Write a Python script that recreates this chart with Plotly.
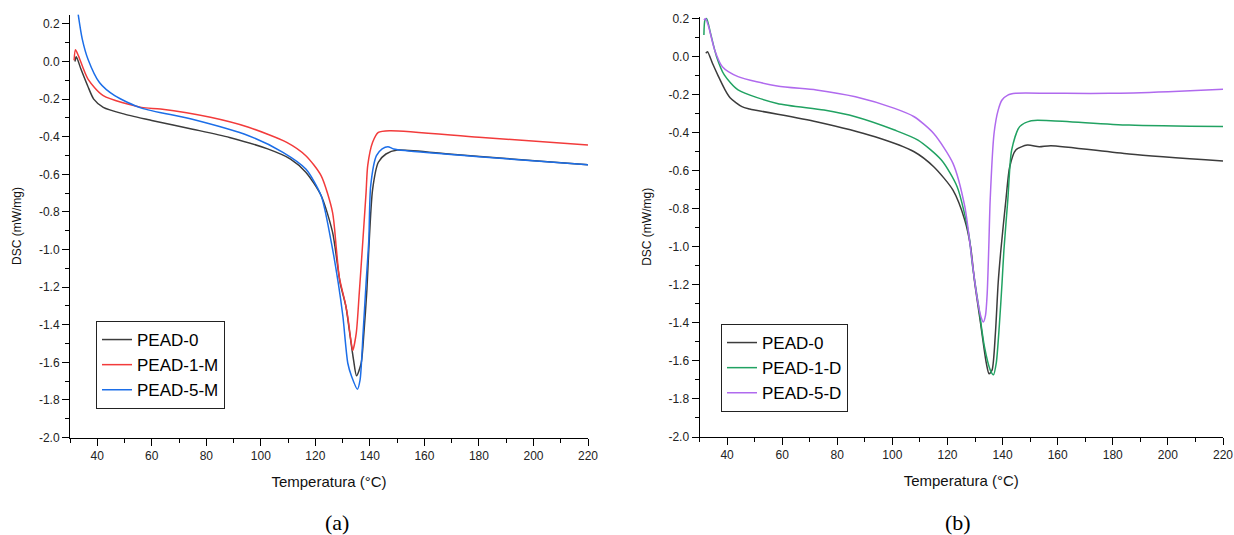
import plotly.graph_objects as go

# (a) curves: temperature (°C) and DSC (mW/mg)
temp_0_a = [31.8, 32.3, 34.0, 36.5, 38.7, 42.2, 50.0, 60.4, 75.0, 88.5, 102.5, 110.9, 116.5,
            122.1, 126.3, 129.1, 131.2, 132.6, 134.0, 135.1, 136.8, 137.8, 138.9, 139.6,
            141.0, 143.1, 145.9, 150.1, 170.0, 190.0, 220.0]
dsc_0_a = [0.0, 0.025, -0.04, -0.13, -0.2, -0.244, -0.28, -0.315, -0.36, -0.404, -0.465, -0.519,
           -0.589, -0.713, -0.908, -1.179, -1.303, -1.445, -1.587, -1.672, -1.605, -1.445,
           -1.214, -1.0, -0.68, -0.536, -0.492, -0.471, -0.494, -0.516, -0.549]

temp_1m = [31.5, 32.0, 33.1, 36.6, 42.2, 56.2, 63.2, 81.5, 95.5, 109.5, 116.5, 122.1, 126.3,
           127.7, 128.8, 130.9, 131.9, 132.9, 133.7, 135.0, 136.1, 137.2, 138.6, 139.2,
           141.0, 143.1, 147.3, 180.0, 220.0]
dsc_1m = [0.007, 0.062, 0.03, -0.094, -0.182, -0.244, -0.253, -0.297, -0.35, -0.43, -0.501,
          -0.607, -0.802, -0.996, -1.15, -1.28, -1.36, -1.47, -1.537, -1.445, -1.232, -1.0,
          -0.696, -0.554, -0.43, -0.377, -0.368, -0.403, -0.444]

temp_5m = [33.0, 34.5, 36.6, 40.8, 46.4, 56.2, 74.5, 95.5, 108.1, 116.5, 122.1, 125.6,
           128.4, 130.1, 131.9, 133.3, 135.4, 136.4, 137.5, 138.6, 139.6, 140.3, 142.4,
           144.5, 146.6, 148.7, 152.9, 180.0, 220.0]
dsc_5m = [0.251, 0.119, 0.012, -0.112, -0.182, -0.248, -0.306, -0.395, -0.483, -0.572, -0.713,
          -0.943, -1.179, -1.356, -1.605, -1.676, -1.743, -1.693, -1.445, -1.179, -0.95,
          -0.66, -0.501, -0.465, -0.453, -0.465, -0.474, -0.507, -0.549]

# (b) curves
temp_0_b = [32.3, 32.9, 34.7, 36.9, 39.0, 41.1, 45.4, 48.2, 72.4, 93.7, 107.9, 115.0, 122.0,
            126.3, 128.4, 129.9, 132.0, 134.1, 135.1, 136.2, 137.4, 138.4, 139.4, 141.2,
            142.6, 144.8, 149.0, 153.3, 157.5, 185.9, 220.0]
dsc_0_b = [0.018, 0.026, -0.035, -0.105, -0.167, -0.216, -0.263, -0.275, -0.342, -0.421, -0.5,
           -0.579, -0.702, -0.86, -1.0, -1.19, -1.401, -1.612, -1.668, -1.647, -1.453, -1.19,
           -1.014, -0.754, -0.579, -0.491, -0.465, -0.474, -0.468, -0.512, -0.549]

temp_1d = [31.6, 32.0, 32.6, 34.0, 36.2, 39.0, 44.0, 58.2, 75.2, 86.6, 100.8, 109.3, 117.8,
           123.5, 127.7, 129.1, 131.3, 133.4, 135.5, 136.7, 137.7, 138.8, 139.8, 140.5,
           141.9, 143.3, 146.2, 150.4, 157.5, 185.9, 220.0]
dsc_1d = [0.114, 0.193, 0.2, 0.123, 0.0, -0.096, -0.175, -0.246, -0.281, -0.316, -0.386, -0.439,
          -0.544, -0.684, -0.93, -1.102, -1.313, -1.524, -1.647, -1.673, -1.612, -1.418, -1.19,
          -1.014, -0.754, -0.491, -0.368, -0.337, -0.337, -0.36, -0.368]

temp_5d = [31.6, 32.2, 33.3, 35.5, 38.3, 44.0, 58.2, 72.4, 86.6, 100.8, 107.9, 115.0, 122.0,
           126.3, 128.3, 129.6, 131.0, 132.2, 133.0, 133.8, 134.4, 135.0, 135.5, 136.9,
           138.4, 139.8, 141.9, 144.8, 157.5, 178.8, 200.1, 220.0]
dsc_5d = [0.193, 0.2, 0.158, 0.035, -0.053, -0.105, -0.154, -0.175, -0.211, -0.272, -0.316,
          -0.404, -0.561, -0.789, -1.0, -1.15, -1.29, -1.37, -1.395, -1.36, -1.25, -1.0, -0.754,
          -0.404, -0.281, -0.228, -0.202, -0.193, -0.193, -0.193, -0.184, -0.172]

y_tickvals = [-2.0, -1.8, -1.6, -1.4, -1.2, -1.0, -0.8, -0.6, -0.4, -0.2, 0.0, 0.2]
y_ticktext = ["-2.0", "-1.8", "-1.6", "-1.4", "-1.2", "-1.0", "-0.8", "-0.6", "-0.4", "-0.2",
              "0.0", "0.2"]
x_tickvals = [40, 60, 80, 100, 120, 140, 160, 180, 200, 220]

BLACK = "#3c3c3c"
RED = "#f23b3b"
BLUE = "#1c6ee8"
GREEN = "#21a262"
PURPLE = "#b06aee"

W, H = 1234, 535


def px(x):
    return x / W


def py(y):
    return 1 - y / H


fig = go.Figure()


def add_curve(x, y, name, color, xa, ya, legend):
    fig.add_trace(go.Scatter(
        x=x, y=y, name=name, mode="lines",
        line=dict(color=color, width=1.5, shape="spline", smoothing=0.7),
        xaxis=xa, yaxis=ya, legend=legend,
    ))


add_curve(temp_0_a, dsc_0_a, "PEAD-0", BLACK, "x", "y", "legend")
add_curve(temp_1m, dsc_1m, "PEAD-1-M", RED, "x", "y", "legend")
add_curve(temp_5m, dsc_5m, "PEAD-5-M", BLUE, "x", "y", "legend")
add_curve(temp_0_b, dsc_0_b, "PEAD-0", BLACK, "x2", "y2", "legend2")
add_curve(temp_1d, dsc_1d, "PEAD-1-D", GREEN, "x2", "y2", "legend2")
add_curve(temp_5d, dsc_5d, "PEAD-5-D", PURPLE, "x2", "y2", "legend2")

tick_font = dict(family="Liberation Sans, Arial, sans-serif", size=12, color="#222")
title_font = dict(family="Liberation Sans Narrow, Arial Narrow, Liberation Sans, sans-serif",
                  size=15, color="#111")

xcommon = dict(
    range=[30, 220], tickvals=x_tickvals, ticks="outside", ticklen=7, tickcolor="black",
    showline=True, linecolor="black", linewidth=1, showgrid=False, zeroline=False,
    minor=dict(dtick=10, tick0=30, ticks="outside", ticklen=4, tickcolor="black"),
    tickfont=tick_font, automargin=False, ticklabeloverflow="allow",
    title=dict(text="Temperatura (°C)", font=title_font, standoff=14),
)
ycommon = dict(
    tickvals=y_tickvals, ticktext=y_ticktext, ticks="outside", ticklen=7, tickcolor="black",
    showline=True, linecolor="black", linewidth=1, showgrid=False, zeroline=False,
    minor=dict(dtick=0.1, tick0=0, ticks="outside", ticklen=4, tickcolor="black"),
    tickfont=tick_font, automargin=False,
    title=dict(text="DSC (mW/mg)", font=dict(family="Liberation Sans, Arial, sans-serif",
                                             size=12, color="#111"), standoff=14),
)

legend_common = dict(
    bgcolor="white", bordercolor="#222", borderwidth=1,
    font=dict(family="Liberation Sans, Arial, sans-serif", size=17, color="black"),
    itemwidth=30, xanchor="left", yanchor="top", tracegroupgap=0,
)

serif = dict(family="Liberation Serif, Times New Roman, serif", size=22, color="black")

fig.update_layout(
    width=W, height=H,
    margin=dict(l=0, r=0, t=0, b=0),
    paper_bgcolor="white", plot_bgcolor="white",
    xaxis=dict(domain=[px(70), px(588)], anchor="y", **xcommon),
    yaxis=dict(domain=[py(437.5), py(14.5)], anchor="x", range=[-2.0, 0.25], **ycommon),
    xaxis2=dict(domain=[px(699.5), px(1223)], anchor="y2", **xcommon),
    yaxis2=dict(domain=[py(437), py(16.7)], anchor="x2", range=[-2.0, 0.21], **ycommon),
    legend=dict(x=px(96), y=py(321), **legend_common),
    legend2=dict(x=px(721), y=py(324), **legend_common),
    annotations=[
        dict(text="(a)", x=px(337), y=py(522), xref="paper", yref="paper", showarrow=False,
             xanchor="center", yanchor="middle", font=serif),
        dict(text="(b)", x=px(958), y=py(522), xref="paper", yref="paper", showarrow=False,
             xanchor="center", yanchor="middle", font=serif),
    ],
)

# drop the page's default body margin so the figure fills the window exactly
fig.write_html("out.html", config={"displayModeBar": False},
               post_script="document.body.style.margin='0';")
